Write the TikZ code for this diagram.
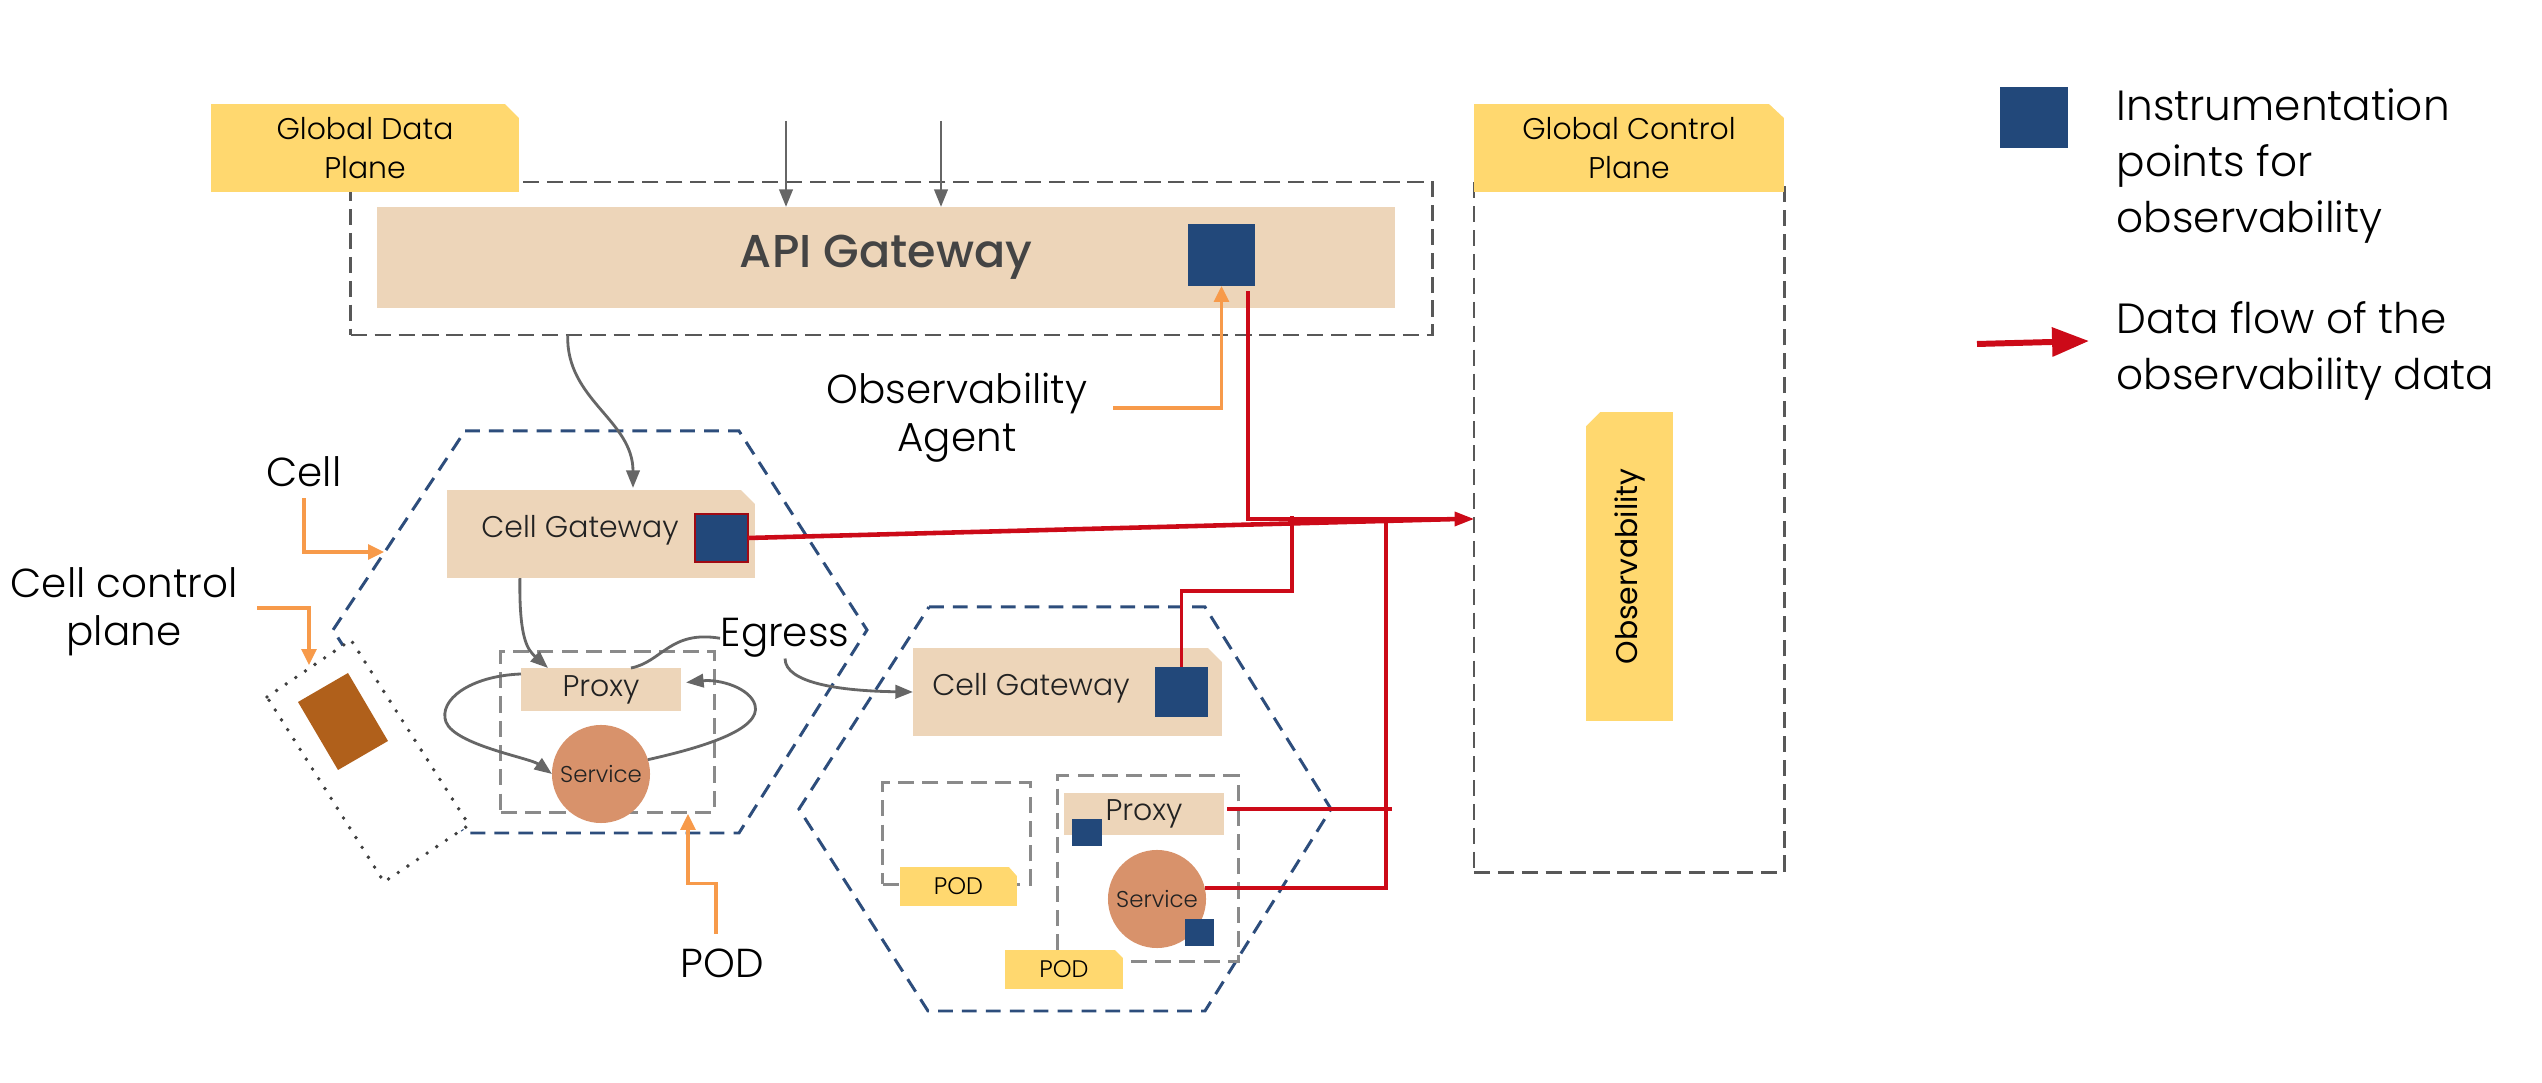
\documentclass[tikz,border=0pt]{standalone}
\usepackage{fontspec}
\setmainfont{Poppins}[UprightFont=* Light, BoldFont=* Medium]
\newfontfamily\popreg{Poppins}
\usetikzlibrary{arrows.meta,calc}
\definecolor{ylw}{HTML}{FFD86F}
\definecolor{beige}{HTML}{EDD5B9}
\definecolor{sqblue}{HTML}{22487A}
\definecolor{sqred}{HTML}{A00A14}
\definecolor{hexblue}{HTML}{2D4D7C}
\definecolor{brownc}{HTML}{B0601B}
\definecolor{svcc}{HTML}{D8926B}
\definecolor{redc}{HTML}{CC0A18}
\definecolor{orc}{HTML}{F79A4A}
\definecolor{grayc}{HTML}{666666}
\definecolor{gdashc}{HTML}{585858}
\definecolor{dotc}{HTML}{404040}
\definecolor{podgray}{HTML}{8A8A8A}
\definecolor{apitxt}{HTML}{444444}
\definecolor{txtdark}{HTML}{222222}
\newcommand{\fbig}{\fontsize{11.5}{14}\selectfont}
\newcommand{\fccp}{\fontsize{11.5}{13.7}\selectfont}
\newcommand{\fleg}{\fontsize{12}{16}\selectfont}
\newcommand{\fmid}{\fontsize{8.5}{11.1}\selectfont}
\newcommand{\fpod}{\fontsize{6.8}{8}\selectfont}
\newcommand{\fsvc}{\fontsize{6.5}{8}\selectfont}
\newcommand{\fapi}{\fontsize{13.1}{16}\selectfont\bfseries}
\newcommand{\fobs}{\popreg\fontsize{8.5}{10}\selectfont}
\begin{document}
\begin{tikzpicture}[x=0.01cm,y=-0.01cm,
  box/.style={inner sep=0pt, outer sep=0pt},
  ylwbox/.style={box, fill=ylw, text=black},
  beigebox/.style={box, fill=beige, text=txtdark},
  bluesq/.style={box, fill=sqblue},
  gdash/.style={box, draw=gdashc, line width=0.8pt, dash pattern=on 4.6pt off 2.2pt},
  poddash/.style={box, draw=podgray, line width=0.85pt, dash pattern=on 4.6pt off 2.3pt},
  hexdash/.style={draw=hexblue, line width=0.85pt, dash pattern=on 4.2pt off 2.6pt},
  dotbox/.style={draw=dotc, fill=white, line width=1.1pt, dash pattern=on 0pt off 3.3pt, line cap=round},
  svc/.style={box, circle, fill=svcc, minimum size=0.98cm, font=\fsvc, text=txtdark},
  txt/.style={inner sep=0pt, text=black},
  grayline/.style={draw=grayc, line width=0.8pt},
  grayarr/.style={grayline, -{Triangle[length=5pt,width=3.8pt]}},
  orarr/.style={draw=orc, line width=0.9pt, -{Triangle[length=4.5pt,width=4.2pt]}},
  redl/.style={draw=redc, line width=0.9pt},
  redthick/.style={draw=redc, line width=1.3pt}
]
\useasboundingbox (0,0) rectangle (2542,1083);
\fill[white] (0,0) rectangle (2542,1083);

% global boxes
\node[gdash, minimum width=3.10cm, minimum height=6.92cm] (gcp) at (1629,526) {};
\node[gdash, minimum width=10.81cm, minimum height=1.53cm] (gdp) at (891.5,258.5) {};

\node[ylwbox, minimum width=3.08cm, minimum height=0.88cm, align=center, font=\fmid] (gdpl) at (365,148) {Global Data\\Plane};
\fill[white] (gdpl.north east) -- ++(-14,0) -- ++(14,14) -- cycle;
\node[ylwbox, minimum width=3.10cm, minimum height=0.88cm, align=center, font=\fmid] (gcpl) at (1629,148) {Global Control\\Plane};
\fill[white] (gcpl.north east) -- ++(-15,0) -- ++(15,14) -- cycle;

\node[beigebox, minimum width=10.17cm, minimum height=1.01cm, font=\fapi, text=apitxt] (apigw) at (886,257.5) {API Gateway};
\node[bluesq, minimum width=0.67cm, minimum height=0.62cm] (apisq) at (1221.5,255) {};

\coordinate (in1) at (786,121);
\coordinate (in2) at (941,121);
\draw[grayarr] (in1) -- (in1 |- apigw.north);
\draw[grayarr] (in2) -- (in2 |- apigw.north);

\node[ylwbox, rotate=90, minimum width=3.09cm, minimum height=0.87cm, font=\fobs] (obs) at (1629.5,566.5) {Observability};
\fill[white] ($(obs.center)+(-44,-155)$) -- ++(15,0) -- ++(-15,15) -- cycle;

% legend
\node[bluesq, minimum width=0.68cm, minimum height=0.61cm] (legsq) at (2034,117.5) {};
\node[txt, anchor=north west, align=left, font=\fleg] (legt1) at (2116,88) {Instrumentation\\points for\\observability};
\coordinate (la1) at (1977,344);
\coordinate (la2) at (2089,341);
\draw[draw=redc, line width=1.7pt, -{Triangle[length=10.5pt,width=8pt]}] (la1) -- (la2);
\node[txt, anchor=north west, align=left, font=\fleg] (legt2) at (2116,301) {Data flow of the\\observability data};

% hexagons
\draw[hexdash] (465,431) -- (739,431) -- (867,630) -- (739,833) -- (464,833) -- (333,630) -- cycle;
\draw[hexdash] (929,607) -- (1205,607) -- (1331,809) -- (1205,1011) -- (928,1011) -- (799,809) -- cycle;

% cell control plane
\draw[dotbox] (267,697) -- (351,640) -- (469,825) -- (384,882) -- cycle;
\fill[brownc] (298,702) -- (348,673) -- (388,741) -- (338,770) -- cycle;

% pods
\node[poddash, minimum width=2.13cm, minimum height=1.60cm] (pod1) at (607.5,732) {};
\node[poddash, minimum width=1.47cm, minimum height=1.01cm] (pod2a) at (956.5,833.5) {};
\node[poddash, minimum width=1.80cm, minimum height=1.85cm] (pod2b) at (1148,868.5) {};

% cell 1
\node[beigebox, minimum width=3.08cm, minimum height=0.88cm] (cg1) at (601,534) {};
\fill[white] (cg1.north east) -- ++(-14,0) -- ++(14,14) -- cycle;
\node[txt, font=\fmid, anchor=base, text=txtdark] (cg1t) at (580,538) {Cell Gateway};
\node[bluesq, draw=sqred, line width=0.6pt, minimum width=0.53cm, minimum height=0.48cm] (cg1sq) at (721.5,538) {};
\node[beigebox, minimum width=1.60cm, minimum height=0.43cm, font=\fmid] (px1) at (601,689.5) {Proxy};
\node[svc] (sv1) at (601,774) {Service};

% cell 2
\node[beigebox, minimum width=3.09cm, minimum height=0.88cm] (cg2) at (1067.5,692) {};
\fill[white] (cg2.north east) -- ++(-14,0) -- ++(14,14) -- cycle;
\node[txt, font=\fmid, anchor=base, text=txtdark] (cg2t) at (1031,696) {Cell Gateway};
\node[bluesq, minimum width=0.53cm, minimum height=0.50cm] (cg2sq) at (1181.5,692) {};
\node[beigebox, minimum width=1.60cm, minimum height=0.42cm, font=\fmid] (px2) at (1144,814) {Proxy};
\node[bluesq, minimum width=0.30cm, minimum height=0.27cm] (px2sq) at (1087,832.5) {};
\node[svc] (sv2) at (1157,899) {Service};
\node[bluesq, minimum width=0.29cm, minimum height=0.27cm] (sv2sq) at (1199.5,932.5) {};
\node[ylwbox, minimum width=1.17cm, minimum height=0.39cm, font=\fpod] (podl1) at (958.5,886.5) {POD};
\fill[white] (podl1.north east) -- ++(-8,0) -- ++(8,9) -- cycle;
\node[ylwbox, minimum width=1.18cm, minimum height=0.39cm, font=\fpod] (podl2) at (1064,969.5) {POD};
\fill[white] (podl2.north east) -- ++(-8,0) -- ++(8,8) -- cycle;

% text labels
\node[txt, font=\fbig, anchor=base] (celllbl) at (304,487) {Cell};
\node[txt, font=\fccp, align=center, anchor=north] (ccplbl) at (124,567) {Cell control\\plane};
\node[txt, font=\fbig, anchor=base west] (egress) at (720,647) {Egress};
\node[txt, font=\fbig, anchor=base] (podlbl) at (722,978) {POD};
\node[txt, font=\fccp, align=center, anchor=north] (agent) at (957,372) {Observability\\Agent};

% gray connectors
\draw[grayarr] ($(gdp.south west)+(217,0)$) .. controls (566,400) and (633,420) .. ($(cg1.north)+(32,-2)$);
\draw[grayarr] ($(cg1.south west)+(73,0)$) .. controls (519,640) and (528,650) .. ($(px1.north west)+(27,0)$);
\draw[grayarr] ($(px1.north west)+(0,6)$) .. controls (470,676) and (438,700) .. (446,722) .. controls (455,745) and (530,758) .. (sv1.west);
\draw[grayarr] (sv1.17) .. controls (700,748) and (762,730) .. (755,705) .. controls (750,688) and (720,679) .. ($(px1.east)+(5,-7)$);
\draw[grayline] ($(px1.north)+(30,0)$) .. controls (662,662) and (670,630) .. (egress.west);
\draw[grayarr] (egress.south) .. controls (785,683) and (840,691) .. (cg2.west);

% orange connectors
\coordinate (cellTip) at (384,552);
\coordinate (ccpA) at (257,608);
\coordinate (ccpTip) at (309,665);
\coordinate (agA) at (1113,408);
\coordinate (podTip) at (688,814);
\draw[orarr] ($(celllbl.south)+(0,10)$) |- (cellTip);
\draw[orarr] (ccpA) -| (ccpTip);
\draw[orarr] (agA) -| (apisq.south);
\draw[orarr] ($(podlbl.north)+(-6,-15)$) -- ++(0,-50) -| (podTip);

% red connectors
\coordinate (obsIn) at (1474,519);
\coordinate (j1) at (1292,516);
\coordinate (j2) at (1386,523);
\draw[redl, -{Triangle[length=5.5pt,width=4pt]}] ($(apisq.south east)+(-7,5)$) |- (obsIn);
\draw[redthick] (cg1sq.east) -- ($(obsIn)+(-16,0)$);
\draw[redl] (cg2sq.north) -- ++(0,-76) -| (j1);
\draw[redl] ($(px2.east)+(3,-5)$) -- ++(165,0);
\draw[redl] (sv2.13) -| (j2);
\end{tikzpicture}
\end{document}
